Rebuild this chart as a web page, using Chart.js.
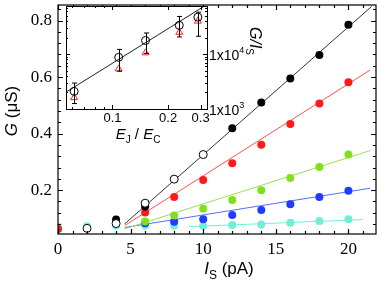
<!DOCTYPE html>
<html><head><meta charset="utf-8">
<script src="https://cdn.jsdelivr.net/npm/chart.js@4/dist/chart.umd.min.js"></script>
<style>
html,body{margin:0;padding:0;background:#fff;}
#wrap{position:relative;width:381px;height:284px;}
canvas{position:absolute;left:0;top:0;}
</style></head>
<body><div id="wrap"><canvas id="main" width="381" height="284"></canvas><canvas id="inset" width="270" height="150"></canvas></div>
<script>
// ---------- main chart data ----------
const xMajorTicks = [0, 5, 10, 15, 20];
const yMajorTicks = [0.2, 0.4, 0.6, 0.8];
const openX = [2, 4, 6, 8, 10];
const openY = [0.065, 0.082, 0.154, 0.239, 0.326];
const blackX = [4, 6, 12, 14, 16, 18, 20];
const blackY = [0.096, 0.142, 0.419, 0.510, 0.595, 0.678, 0.785];
const redX = [0, 6, 8, 10, 12, 14, 16, 18, 20];
const redY = [0.063, 0.121, 0.176, 0.236, 0.295, 0.361, 0.434, 0.507, 0.582];
const greenX = [6, 8, 10, 12, 14, 16, 18, 20];
const greenY = [0.089, 0.110, 0.134, 0.165, 0.200, 0.243, 0.282, 0.326];
const blueX = [6, 8, 10, 12, 14, 16, 18, 20];
const blueY = [0.083, 0.088, 0.097, 0.112, 0.130, 0.150, 0.176, 0.198];
const cyanX = [0, 2, 4, 6, 8, 10, 12, 14, 16, 18, 20];
const cyanY = [0.071, 0.072, 0.075, 0.075, 0.074, 0.074, 0.077, 0.079, 0.085, 0.091, 0.097];
// fitted lines (end points)
const blackFitX = [4.6, 21.6], blackFitY = [0.081, 0.85];
const redFitX = [4.6, 21.5], redFitY = [0.075, 0.625];
const greenFitX = [4.6, 21.5], greenFitY = [0.063, 0.340];
const blueFitX = [4.6, 21.5], blueFitY = [0.068, 0.207];
const cyanFitX = [9.0, 21.0], cyanFitY = [0.071, 0.096];

// ---------- inset data ----------
const insetXTicks = [0.1, 0.2, 0.3];
const insetYTicks = [1000, 10000];
const insetX = [0.062, 0.108, 0.151, 0.230, 0.290];
const circleY = [2094, 8730, 17650, 33350, 47000];
const circleHi = [2965, 12160, 24200, 48400, 57800];
const circleLo = [1256, 4875, 10300, 20500, 21100];
const triY = [1611, 5370, 10540, 24900, 39800];
const insetFitX = [0.056, 0.325], insetFitY = [2030, 80000];

const zip = (xs, ys) => xs.map((x, i) => ({x, y: ys[i]}));
const SERIF = '"Liberation Serif", "Times New Roman", serif';
const SANS = '"Liberation Sans", Arial, sans-serif';

function pts(label, xs, ys, color, open) {
  return {label, data: zip(xs, ys), showLine: false, pointRadius: 4, pointHoverRadius: 4,
    pointStyle: 'circle', pointBackgroundColor: open ? '#fff' : color,
    pointBorderColor: open ? '#000' : color, pointBorderWidth: open ? 1 : 0};
}
function fit(label, xs, ys, color) {
  return {label, data: zip(xs, ys), showLine: true, pointRadius: 0, borderColor: color, borderWidth: 1, fill: false};
}
function noPad(s) { s.paddingTop = 0; s.paddingBottom = 0; s.paddingLeft = 0; s.paddingRight = 0; }

function drawRich(ctx, segs, x, y, align) {
  let w = 0;
  segs.forEach(s => { ctx.font = s.font; w += ctx.measureText(s.t).width; });
  let cx = align === 'center' ? x - w / 2 : (align === 'right' ? x - w : x);
  ctx.textAlign = 'left'; ctx.textBaseline = 'alphabetic';
  segs.forEach(s => { ctx.font = s.font; ctx.fillText(s.t, cx, y + (s.dy || 0)); cx += ctx.measureText(s.t).width; });
}

const mainDecor = {
  id: 'mainDecor',
  afterDraw(chart) {
    const ctx = chart.ctx, a = chart.chartArea, xs = chart.scales.x, ys = chart.scales.y;
    ctx.save();
    ctx.strokeStyle = '#000'; ctx.lineWidth = 1.2;
    ctx.strokeRect(a.left, a.top, a.right - a.left, a.bottom - a.top);
    ctx.beginPath();
    for (let v = 0; v <= xs.max; v += 1) {
      const p = Math.round(xs.getPixelForValue(v)) + 0.5;
      const L = xMajorTicks.includes(v) ? 5 : 3;
      ctx.moveTo(p, a.bottom); ctx.lineTo(p, a.bottom - L);
      ctx.moveTo(p, a.top); ctx.lineTo(p, a.top + L);
    }
    for (let k = 1; k * 0.04 <= ys.max; k++) {
      const v = k * 0.04;
      if (v < ys.min) continue;
      const p = Math.round(ys.getPixelForValue(v)) + 0.5;
      const L = (k % 5 === 0) ? 5 : 3;
      ctx.moveTo(a.left, p); ctx.lineTo(a.left + L, p);
      ctx.moveTo(a.right, p); ctx.lineTo(a.right - L, p);
    }
    ctx.stroke();
    ctx.fillStyle = '#000';
    drawRich(ctx, [
      {t: 'I', font: 'italic 17px ' + SANS},
      {t: 'S', font: '12px ' + SANS, dy: 5},
      {t: ' (pA)', font: '17px ' + SANS}], 229, 274, 'center');
    ctx.translate(17, 111); ctx.rotate(-Math.PI / 2);
    drawRich(ctx, [
      {t: 'G', font: 'italic 17px ' + SANS},
      {t: ' (\u03bcS)', font: '17px ' + SANS}], 0, 0, 'center');
    ctx.restore();
  }
};

new Chart(document.getElementById('main'), {
  type: 'scatter',
  data: {datasets: [
    pts('open', openX, openY, '#000', true),
    pts('black', blackX, blackY, '#000', false),
    pts('red', redX, redY, '#ff1a1a', false),
    pts('green', greenX, greenY, '#80e020', false),
    pts('blue', blueX, blueY, '#1f3cff', false),
    pts('cyan', cyanX, cyanY, '#70f0d8', false),
    fit('blackFit', blackFitX, blackFitY, '#333'),
    fit('redFit', redFitX, redFitY, '#ff5050'),
    fit('greenFit', greenFitX, greenFitY, '#99e050'),
    fit('blueFit', blueFitX, blueFitY, '#5070ff'),
    fit('cyanFit', cyanFitX, cyanFitY, '#70f0d8')
  ]},
  options: {
    responsive: false, devicePixelRatio: 1, animation: false,
    layout: {padding: {left: 0, top: 1, right: 2, bottom: 0}},
    plugins: {legend: {display: false}, tooltip: {enabled: false}},
    scales: {
      x: {type: 'linear', min: 0, max: 21.9,
        grid: {display: false, drawTicks: false, tickLength: 0}, border: {display: false},
        afterBuildTicks: s => { s.ticks = xMajorTicks.map(v => ({value: v})); },
        afterFit: s => { s.height = 50; noPad(s); },
        ticks: {color: '#000', font: {family: SERIF, size: 17}, padding: 5, maxRotation: 0, autoSkip: false,
          callback: v => String(v)}},
      y: {type: 'linear', min: 0.045, max: 0.855,
        grid: {display: false, drawTicks: false, tickLength: 0}, border: {display: false},
        afterBuildTicks: s => { s.ticks = yMajorTicks.map(v => ({value: v})); },
        afterFit: s => { s.width = 58; noPad(s); },
        ticks: {color: '#000', font: {family: SERIF, size: 17}, padding: 6, autoSkip: false,
          callback: v => v.toFixed(1)}}
    }
  },
  plugins: [mainDecor]
});

// ---------- inset ----------
const insetDecor = {
  id: 'insetDecor',
  beforeDraw(chart) {
    const ctx = chart.ctx, a = chart.chartArea;
    ctx.save(); ctx.fillStyle = '#fff';
    ctx.fillRect(a.left, a.top, a.right - a.left, a.bottom - a.top); ctx.restore();
  },
  afterDatasetsDraw(chart) {
    const ctx = chart.ctx, xs = chart.scales.x, ys = chart.scales.y;
    ctx.save(); ctx.strokeStyle = '#000'; ctx.lineWidth = 1;
    ctx.beginPath();
    insetX.forEach((x, i) => {
      const px = Math.round(xs.getPixelForValue(x)) + 0.5;
      const h = ys.getPixelForValue(circleHi[i]), l = ys.getPixelForValue(circleLo[i]);
      ctx.moveTo(px, h); ctx.lineTo(px, l);
      ctx.moveTo(px - 2.5, h); ctx.lineTo(px + 2.5, h);
      ctx.moveTo(px - 2.5, l); ctx.lineTo(px + 2.5, l);
    });
    ctx.stroke(); ctx.restore();
  },
  afterDraw(chart) {
    const ctx = chart.ctx, a = chart.chartArea, xs = chart.scales.x, ys = chart.scales.y;
    ctx.save(); ctx.strokeStyle = '#000'; ctx.lineWidth = 1;
    ctx.strokeRect(a.left + 0.5, a.top + 0.5, a.right - a.left, a.bottom - a.top);
    ctx.beginPath();
    [0.06, 0.07, 0.08, 0.09, 0.1, 0.2, 0.3].forEach(v => {
      const p = Math.round(xs.getPixelForValue(v)) + 0.5;
      const L = insetXTicks.includes(v) ? 4 : 2;
      ctx.moveTo(p, a.bottom); ctx.lineTo(p, a.bottom - L);
      ctx.moveTo(p, a.top); ctx.lineTo(p, a.top + L);
    });
    [1000, 2000, 3000, 4000, 5000, 6000, 7000, 8000, 9000, 10000, 20000, 30000, 40000, 50000, 60000, 70000].forEach(v => {
      if (v > ys.max) return;
      const p = Math.round(ys.getPixelForValue(v)) + 0.5;
      const L = insetYTicks.includes(v) ? 4 : 2;
      ctx.moveTo(a.left, p); ctx.lineTo(a.left + L, p);
      ctx.moveTo(a.right, p); ctx.lineTo(a.right - L, p);
    });
    ctx.stroke();
    ctx.fillStyle = '#000';
    insetYTicks.forEach(v => {
      const p = ys.getPixelForValue(v);
      const e = String(Math.round(Math.log10(v)));
      drawRich(ctx, [{t: '1x10', font: '14px ' + SANS}, {t: e, font: '9px ' + SANS, dy: -7}], a.right + 2, p + 6, 'left');
    });
    drawRich(ctx, [
      {t: 'E', font: 'italic 15px ' + SANS}, {t: 'J', font: '10px ' + SANS, dy: 4},
      {t: ' / ', font: '15px ' + SANS},
      {t: 'E', font: 'italic 15px ' + SANS}, {t: 'C', font: '10px ' + SANS, dy: 4}], 138, 139, 'center');
    ctx.translate(250, 41); ctx.rotate(Math.PI / 2);
    drawRich(ctx, [{t: 'G/I', font: 'italic 16px ' + SANS}, {t: 'S', font: '10px ' + SANS, dy: 4}], 0, 0, 'center');
    ctx.restore();
  }
};

new Chart(document.getElementById('inset'), {
  type: 'scatter',
  data: {datasets: [
    {label: 'circles', data: zip(insetX, circleY), showLine: false, pointStyle: 'circle', pointRadius: 4,
      pointBackgroundColor: 'rgba(255,255,255,0)', pointBorderColor: '#000', pointBorderWidth: 1},
    {label: 'triangles', data: zip(insetX, triY), showLine: false, pointStyle: 'triangle', pointRadius: 4,
      pointBackgroundColor: 'rgba(255,255,255,0)', pointBorderColor: '#ff2020', pointBorderWidth: 1},
    {label: 'fit', data: zip(insetFitX, insetFitY), showLine: true, pointRadius: 0, borderColor: '#222', borderWidth: 1}
  ]},
  options: {
    responsive: false, devicePixelRatio: 1, animation: false,
    layout: {padding: {left: 66, top: 6, right: 0, bottom: 0}},
    plugins: {legend: {display: false}, tooltip: {enabled: false}},
    scales: {
      x: {type: 'logarithmic', min: 0.056, max: 0.325,
        grid: {display: false, drawTicks: false, tickLength: 0}, border: {display: false},
        afterBuildTicks: s => { s.ticks = insetXTicks.map(v => ({value: v})); },
        afterFit: s => { s.height = 41; noPad(s); },
        ticks: {color: '#000', font: {family: SANS, size: 13}, padding: 2, maxRotation: 0, autoSkip: false,
          callback: v => String(v)}},
      y: {type: 'logarithmic', position: 'right', min: 1000, max: 75000,
        grid: {display: false, drawTicks: false, tickLength: 0}, border: {display: false},
        afterFit: s => { s.width = 63; noPad(s); },
        ticks: {display: false}}
    }
  },
  plugins: [insetDecor]
});
</script></body></html>
